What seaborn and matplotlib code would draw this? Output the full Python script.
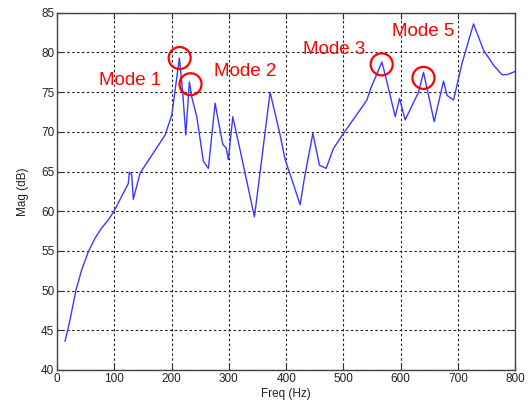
import matplotlib
matplotlib.use("Agg")
import matplotlib.pyplot as plt
import seaborn as sns
import pandas as pd
from matplotlib.patches import Ellipse

freq = [13.6, 22.4, 32.9, 42.8, 54.4, 66.1, 77.8, 89.3, 99.3, 124.3, 126.0, 130.2, 133.0,
        144.8, 188.5, 200.2,
        213.5, 219.4, 224.7, 231.0, 235.1, 243.9, 255.4, 264.2, 275.9, 289.3, 295.1,
        299.1, 306.8, 319.6, 344.6, 353.3, 372.0, 389.5, 398.3, 410.0, 424.5, 431.5,
        446.7, 458.2, 469.9, 482.7, 500.2, 541.1, 546.9, 567.3, 573.1, 590.6, 598.1,
        608.0, 631.3, 640.0, 658.7, 675.0, 681.0, 692.5, 707.2, 727.4, 744.9, 762.4,
        777.1, 785.8, 800.0]
mag = [43.6, 46.3, 50.1, 52.6, 54.9, 56.6, 57.9, 58.9, 60.0, 63.5, 64.9, 64.6, 61.5,
       64.8, 69.6, 72.1,
       79.3, 74.9, 69.6, 76.3, 74.4, 71.9, 66.3, 65.4, 73.6, 68.4, 68.0,
       66.5, 71.9, 67.7, 59.3, 64.2, 75.0, 69.6, 66.5, 64.0, 60.8, 64.0,
       69.8, 65.8, 65.4, 67.9, 69.8, 74.0, 75.3, 78.8, 77.2, 71.9, 74.2,
       71.5, 75.0, 77.5, 71.3, 76.4, 74.6, 74.0, 78.6, 83.6, 80.3, 78.4,
       77.2, 77.2, 77.6]

mode_labels = ["Mode 1", "Mode 2", "Mode 3", "Mode 5"]
mode_freq = [214, 233, 567, 640]
mode_mag = [79.3, 76.0, 78.5, 76.8]
label_freq = [128, 328, 484, 640]
label_mag = [76.5, 77.6, 80.4, 82.6]

x_ticks = [0, 100, 200, 300, 400, 500, 600, 700, 800]
y_ticks = [40, 45, 50, 55, 60, 65, 70, 75, 80, 85]

sns.set_theme(style="white")
plt.rcParams['font.family'] = ['Liberation Sans', 'DejaVu Sans']

fig = plt.figure(figsize=(5.31, 4.12), dpi=100)
ax = fig.add_axes([0.1077, 0.102, 0.8623, 0.867])

df = pd.DataFrame({"Freq (Hz)": freq, "Mag (dB)": mag})
sns.lineplot(data=df, x="Freq (Hz)", y="Mag (dB)", ax=ax, color="#3a3aff",
             linewidth=1.0, sort=False)

ax.set_xlim(0, 800)
ax.set_ylim(40, 85)
ax.set_xticks(x_ticks)
ax.set_yticks(y_ticks)
ax.grid(True, color="#222222", linestyle=(0, (2.2, 2.2)), linewidth=0.8)
ax.tick_params(direction="in", length=4, width=0.8, colors="#333333",
               labelsize=8.5, labelcolor="#222222", top=True, right=True,
               bottom=True, left=True, pad=2)
for s in ax.spines.values():
    s.set_color("#444444")
    s.set_linewidth(1.0)
ax.set_xlabel("Freq (Hz)", fontsize=8.5, color="#222222", labelpad=2)
ax.set_ylabel("Mag (dB)", fontsize=8.5, color="#222222", labelpad=9)

# circles (pixel radius ~ 11 px)
xr = 11 / 0.572
yr = 11 / 7.95
for f, m in zip(mode_freq, mode_mag):
    ax.add_patch(Ellipse((f, m), 2 * xr, 2 * yr, fill=False, edgecolor="red",
                         linewidth=1.6, zorder=5))
for lab, f, m in zip(mode_labels, label_freq, label_mag):
    ax.text(f, m, lab, color="red", fontsize=13.5, ha="center", va="center")

fig.savefig("out.png", dpi=100)
